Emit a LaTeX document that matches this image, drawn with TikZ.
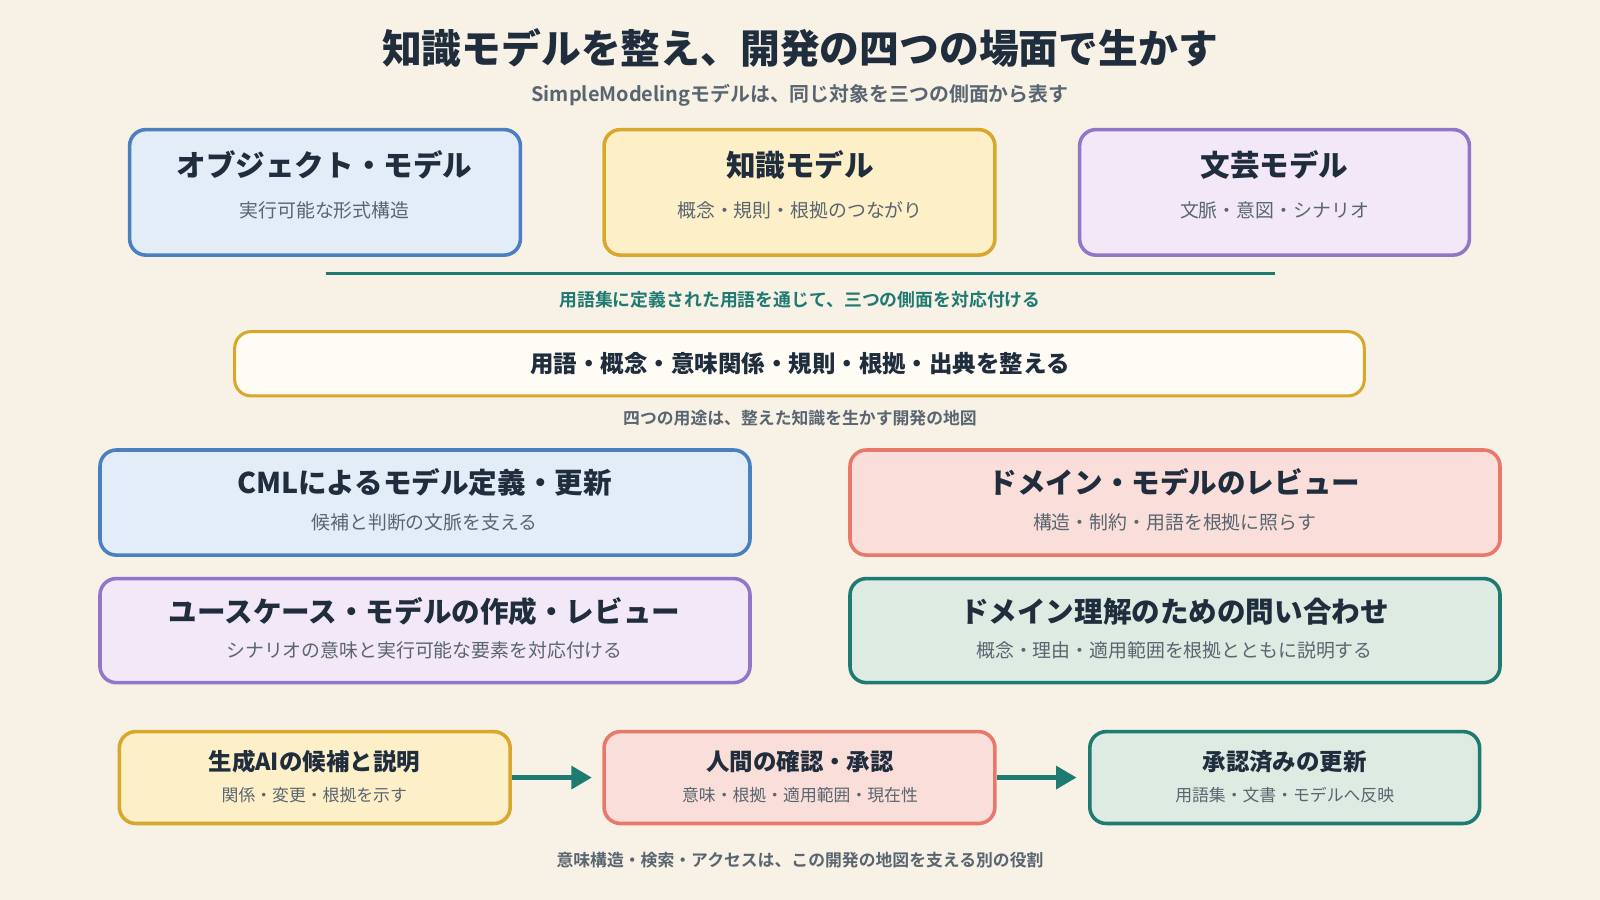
\documentclass[tikz,border=0pt]{standalone}
\usepackage{fontspec}
\setmainfont{Noto Sans CJK JP}[BoldFont={* Bold}]
\newfontfamily\heavy{Noto Sans CJK JP Black}
\usetikzlibrary{arrows.meta}
\definecolor{bg}{HTML}{F7F1E6}
\definecolor{ink}{HTML}{1F2D3D}
\definecolor{gr}{HTML}{5A6570}
\definecolor{bB}{HTML}{4A80C0}\definecolor{fB}{HTML}{E3EDF7}
\definecolor{bY}{HTML}{D8A82C}\definecolor{fY}{HTML}{FDF0C8}
\definecolor{bP}{HTML}{9277C8}\definecolor{fP}{HTML}{F3E8F8}
\definecolor{bR}{HTML}{E8796A}\definecolor{fR}{HTML}{F9DEDA}
\definecolor{bT}{HTML}{1F7A72}\definecolor{fT}{HTML}{DDEBE3}
\definecolor{fW}{HTML}{FFFCF5}
\tikzset{
 box/.style={rounded corners=16pt,line width=3.5pt},
 ttl/.style={font=\heavy\fontsize{29}{30}\selectfont,text=ink,anchor=center},
 mttl/.style={font=\heavy\fontsize{28}{30}\selectfont,text=ink,anchor=center},
 sttl/.style={font=\heavy\fontsize{23}{26}\selectfont,text=ink,anchor=center},
 sub/.style={font=\fontsize{18.5}{22}\selectfont,text=gr,anchor=center},
 ssub/.style={font=\fontsize{16.5}{20}\selectfont,text=gr,anchor=center},
 note/.style={font=\bfseries\fontsize{16.5}{20}\selectfont,text=gr,anchor=center},
 arr/.style={line width=4.5pt,draw=bT,-{Triangle[length=20pt,width=22pt]}}
}
\begin{document}
\begin{tikzpicture}[x=1pt,y=-1pt]
\fill[bg] (0,0) rectangle (1568,882);
\useasboundingbox (0,0) rectangle (1568,882);
\node[font=\heavy\fontsize{39}{42}\selectfont,text=ink] (title) at (784,47) {知識モデルを整え、開発の四つの場面で生かす};
\node[font=\bfseries\fontsize{19.5}{22}\selectfont,text=gr] (subt) at (784,93) {SimpleModelingモデルは、同じ対象を三つの側面から表す};
% top boxes
\draw[box,draw=bB,fill=fB] (127,127) rectangle (510,250);
\node[ttl] (o1) at (318,162) {オブジェクト・モデル};
\node[sub] (o2) at (318,206) {実行可能な形式構造};
\draw[box,draw=bY,fill=fY] (592,127) rectangle (975,250);
\node[ttl] (k1) at (784,162) {知識モデル};
\node[sub] (k2) at (784,206) {概念・規則・根拠のつながり};
\draw[box,draw=bP,fill=fP] (1058,127) rectangle (1440,250);
\node[ttl] (l1) at (1249,162) {文芸モデル};
\node[sub] (l2) at (1249,206) {文脈・意図・シナリオ};
\coordinate (la) at (319,268); \coordinate (lb) at (1249,268);
\draw[bT,line width=3.5pt] (la) -- (lb);
\node[font=\bfseries\fontsize{17.5}{20}\selectfont,text=bT] (tl) at (784,294) {用語集に定義された用語を通じて、三つの側面を対応付ける};
\draw[box,draw=bY,fill=fW,line width=3pt] (230,325) rectangle (1337,388);
\node[sttl] (lt) at (784,356) {用語・概念・意味関係・規則・根拠・出典を整える};
\node[note] (n1) at (784,410) {四つの用途は、整えた知識を生かす開発の地図};
% middle
\draw[box,draw=bB,fill=fB] (98,441) rectangle (735,544);
\node[mttl] (m1) at (416,473) {CMLによるモデル定義・更新};
\node[sub] (m1s) at (416,512) {候補と判断の文脈を支える};
\draw[box,draw=bR,fill=fR] (833,441) rectangle (1470,544);
\node[mttl] (m2) at (1151,473) {ドメイン・モデルのレビュー};
\node[sub] (m2s) at (1151,512) {構造・制約・用語を根拠に照らす};
\draw[box,draw=bP,fill=fP] (98,567) rectangle (735,669);
\node[mttl] (m3) at (416,599) {ユースケース・モデルの作成・レビュー};
\node[sub] (m3s) at (416,637) {シナリオの意味と実行可能な要素を対応付ける};
\draw[box,draw=bT,fill=fT] (833,567) rectangle (1470,669);
\node[mttl] (m4) at (1151,599) {ドメイン理解のための問い合わせ};
\node[sub] (m4s) at (1151,637) {概念・理由・適用範囲を根拠とともに説明する};
% bottom
\draw[box,draw=bY,fill=fY] (117,717) rectangle (500,807);
\node[sttl] (b1) at (308,746) {生成AIの候補と説明};
\node[ssub] (b1s) at (308,779) {関係・変更・根拠を示す};
\draw[box,draw=bR,fill=fR] (592,717) rectangle (975,807);
\node[sttl] (b2) at (784,746) {人間の確認・承認};
\node[ssub] (b2s) at (784,779) {意味・根拠・適用範囲・現在性};
\draw[box,draw=bT,fill=fT] (1068,717) rectangle (1450,807);
\node[sttl] (b3) at (1259,746) {承認済みの更新};
\node[ssub] (b3s) at (1259,779) {用語集・文書・モデルへ反映};
\coordinate (a1) at (502,762); \coordinate (a2) at (580,762);
\coordinate (a3) at (977,762); \coordinate (a4) at (1055,762);
\draw[arr] (a1) -- (a2);
\draw[arr] (a3) -- (a4);
\node[note] (foot) at (784,843) {意味構造・検索・アクセスは、この開発の地図を支える別の役割};
\end{tikzpicture}
\end{document}
